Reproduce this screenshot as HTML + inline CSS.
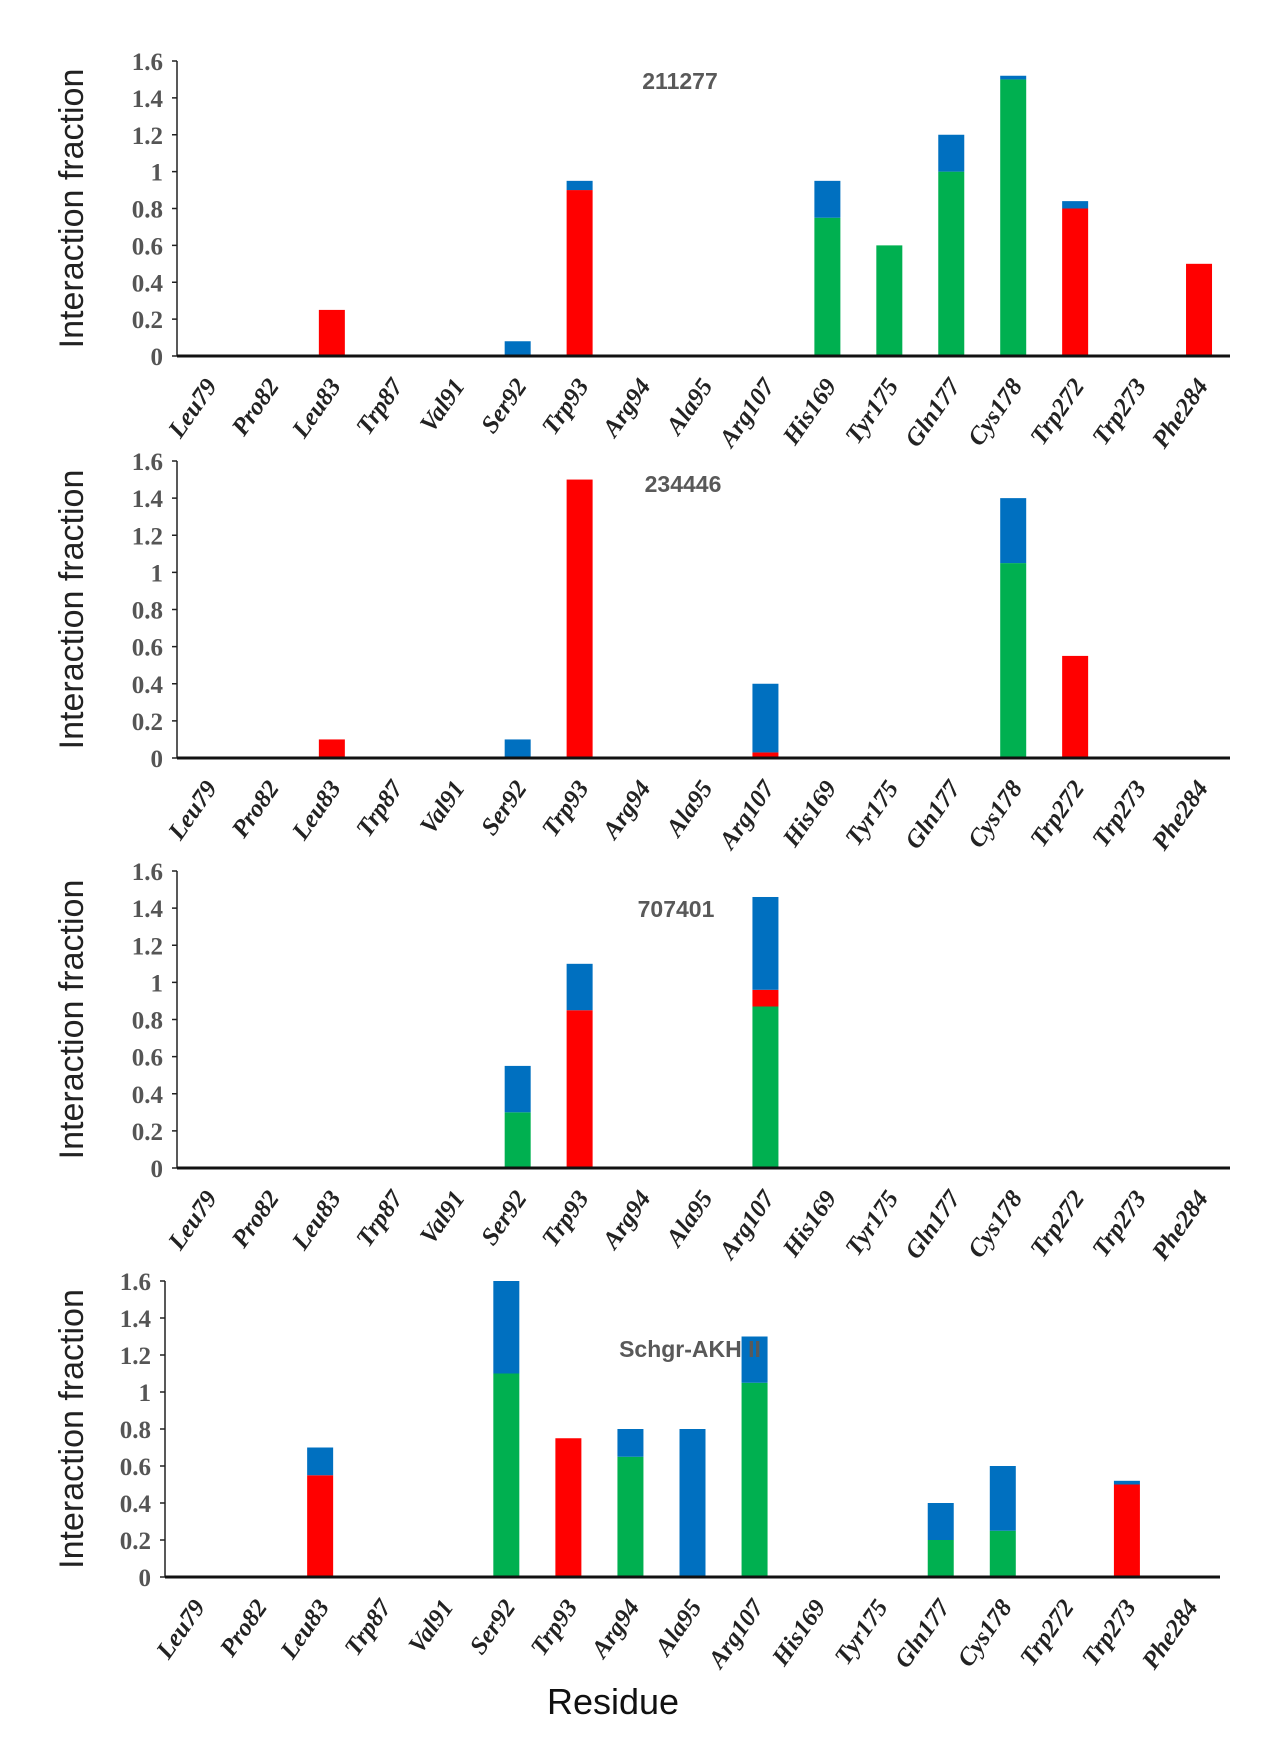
<!DOCTYPE html>
<html><head><meta charset="utf-8"><style>
html,body{margin:0;padding:0;background:#fff;}
svg{display:block;}
</style></head><body>
<svg id="chart" width="1282" height="1742" viewBox="0 0 1282 1742" xmlns="http://www.w3.org/2000/svg"></svg>
<script>
const categories = ["Leu79","Pro82","Leu83","Trp87","Val91","Ser92","Trp93","Arg94","Ala95","Arg107","His169","Tyr175","Gln177","Cys178","Trp272","Trp273","Phe284"];
const yTicks = [0,0.2,0.4,0.6,0.8,1,1.2,1.4,1.6];
const yTickLabels = ["0","0.2","0.4","0.6","0.8","1","1.2","1.4","1.6"];
const panelTitles = ["211277","234446","707401","Schgr-AKH II"];
// series per panel: green (bottom), red (middle), blue (top)
const green1 = [0,0,0,0,0,0,0,0,0,0,0.75,0.6,1.0,1.5,0,0,0];
const red1   = [0,0,0.25,0,0,0,0.9,0,0,0,0,0,0,0,0.8,0,0.5];
const blue1  = [0,0,0,0,0,0.08,0.05,0,0,0,0.2,0,0.2,0.02,0.04,0,0];
const green2 = [0,0,0,0,0,0,0,0,0,0,0,0,0,1.05,0,0,0];
const red2   = [0,0,0.1,0,0,0,1.5,0,0,0.03,0,0,0,0,0.55,0,0];
const blue2  = [0,0,0,0,0,0.1,0,0,0,0.37,0,0,0,0.35,0,0,0];
const green3 = [0,0,0,0,0,0.3,0,0,0,0.87,0,0,0,0,0,0,0];
const red3   = [0,0,0,0,0,0,0.85,0,0,0.09,0,0,0,0,0,0,0];
const blue3  = [0,0,0,0,0,0.25,0.25,0,0,0.5,0,0,0,0,0,0,0];
const green4 = [0,0,0,0,0,1.1,0,0.65,0,1.05,0,0,0.2,0.25,0,0,0];
const red4   = [0,0,0.55,0,0,0,0.75,0,0,0,0,0,0,0,0,0.5,0];
const blue4  = [0,0,0.15,0,0,0.5,0,0.15,0.8,0.25,0,0,0.2,0.35,0,0.02,0];

const panels = [
  {x0:177,x1:1230,yTop:61,yBot:356,title:[680,80],g:green1,r:red1,b:blue1},
  {x0:177,x1:1230,yTop:461,yBot:758,title:[683,483],g:green2,r:red2,b:blue2},
  {x0:177,x1:1230,yTop:871,yBot:1168,title:[676,908],g:green3,r:red3,b:blue3},
  {x0:165,x1:1220,yTop:1281,yBot:1577,title:[690,1348],g:green4,r:red4,b:blue4}
];
const colors = {g:"#00b050",r:"#ff0000",b:"#0070c0"};
const svg = document.getElementById('chart');
const NS = "http://www.w3.org/2000/svg";
function mk(tag, attrs, parent){
  const e = document.createElementNS(NS, tag);
  for (const k in attrs) e.setAttribute(k, attrs[k]);
  (parent||svg).appendChild(e);
  return e;
}
panels.forEach((p, pi) => {
  const g = mk('g', {});
  
  
  const yScale = v => p.yBot - (v/1.6)*(p.yBot - p.yTop);
  const step = (p.x1 - p.x0)/categories.length;
  const xCenter = i => p.x0 + (i+0.5)*step;
  const bw = 26;
  categories.forEach((c, i) => {
    let base = 0;
    [['g',p.g],['r',p.r],['b',p.b]].forEach(([k, arr]) => {
      const v = arr[i];
      if (v > 0) {
        const rect = mk('rect', {x: xCenter(i)-bw/2, y: yScale(base+v), width: bw, height: yScale(base)-yScale(base+v), fill: colors[k]}, g);
        
        
      }
      base += v;
    });
  });
  const ya = mk('line', {x1:p.x0, y1:p.yTop, x2:p.x0, y2:p.yBot, stroke:'#222', 'stroke-width':1.5}, g);
  
  
  yTicks.forEach((t, ti) => {
    const y = yScale(t);
    mk('line', {x1:p.x0-5, y1:y, x2:p.x0, y2:y, stroke:'#222', 'stroke-width':1.5}, g);
    const tl = mk('text', {x:p.x0-14, y:y+9, 'text-anchor':'end', 'font-family':'Liberation Serif, serif', 'font-weight':'bold', 'font-size':25, fill:'#555'}, g);
    tl.textContent = yTickLabels[ti];
    
    
  });
  const xa = mk('line', {x1:p.x0, y1:p.yBot, x2:p.x1, y2:p.yBot, stroke:'#111', 'stroke-width':3}, g);
  
  
  categories.forEach((c, i) => {
    const ax = xCenter(i)+10, ay = p.yBot+30;
    const t = mk('text', {x:ax, y:ay, 'text-anchor':'end', transform:`rotate(-55 ${ax} ${ay})`, 'font-family':'Liberation Serif, serif', 'font-weight':'bold', 'font-style':'italic', 'font-size':25, fill:'#222'}, g);
    t.textContent = c;
    
    
  });
  const tt = mk('text', {x:p.title[0], y:p.title[1]+9, 'text-anchor':'middle', 'font-family':'Liberation Sans, sans-serif', 'font-weight':'bold', 'font-size':23, fill:'#595959'}, g);
  tt.textContent = panelTitles[pi];
  
  
  const cy = (p.yTop + p.yBot)/2;
  const yl = mk('text', {x:74, y:cy, 'text-anchor':'middle', 'dominant-baseline':'middle', transform:`rotate(-90 74 ${cy})`, 'font-family':'Liberation Sans, sans-serif', 'font-size':34, fill:'#222'}, g);
  yl.textContent = 'Interaction fraction';
  
  
});
const xl = mk('text', {x:613, y:1714, 'text-anchor':'middle', 'font-family':'Liberation Sans, sans-serif', 'font-size':36, fill:'#111'});
xl.textContent = 'Residue';


</script>
</body></html>
